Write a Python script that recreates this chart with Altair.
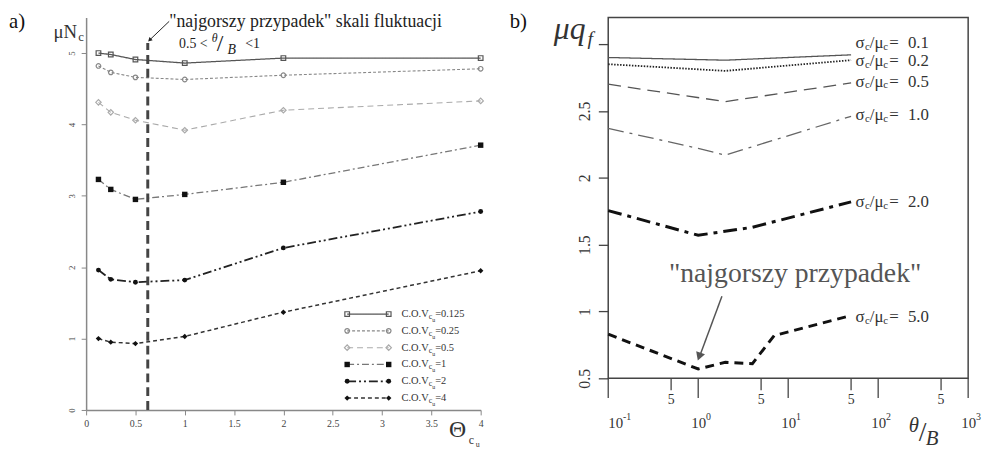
import altair as alt
import pandas as pd

# ---------------- data: panel a ----------------
theta_a = [0.125, 0.25, 0.5, 1, 2, 4]
cov_labels = ["0.125", "0.25", "0.5", "1", "2", "4"]
cov_0125 = [5.00, 4.98, 4.91, 4.86, 4.93, 4.93]
cov_025 = [4.82, 4.73, 4.66, 4.63, 4.69, 4.78]
cov_05 = [4.31, 4.17, 4.06, 3.92, 4.20, 4.33]
cov_1 = [3.23, 3.09, 2.95, 3.02, 3.19, 3.71]
cov_2 = [1.96, 1.83, 1.79, 1.82, 2.27, 2.78]
cov_4 = [1.00, 0.95, 0.93, 1.03, 1.37, 1.95]
worst_theta = 0.625

# ---------------- data: panel b ----------------
sig_labels = ["0.1", "0.2", "0.5", "1.0", "2.0", "5.0"]
x_s01 = [0.1, 2, 50]
y_s01 = [2.90, 2.88, 2.92]
x_s02 = [0.1, 2, 50]
y_s02 = [2.85, 2.80, 2.88]
x_s05 = [0.1, 2, 50]
y_s05 = [2.70, 2.57, 2.71]
x_s10 = [0.1, 1, 2, 50]
y_s10 = [2.37, 2.22, 2.17, 2.46]
x_s20 = [0.1, 1, 4, 50]
y_s20 = [1.755, 1.57, 1.63, 1.82]
x_s50 = [0.1, 1, 2, 4, 7, 50]
y_s50 = [0.83, 0.57, 0.62, 0.61, 0.82, 0.97]
sig_label_y = [3.01, 2.87, 2.72, 2.47, 1.82, 0.96]
major_ticks = [0.1, 1, 10, 100, 1000]
major_exp = ["-1", "0", "1", "2", "3"]
minor_ticks = [0.5, 5, 50, 500]

SERIF = "Liberation Serif, Times New Roman, DejaVu Serif, serif"

WA, HA = 399, 397
WB, HB = 364, 365


def one():
    return pd.DataFrame({"a": [0]})


def txt(text, x, y, size, italic=False, color="#222", align="left", baseline="middle"):
    return alt.Chart(one()).mark_text(
        text=text, font=SERIF, fontSize=size, fontStyle="italic" if italic else "normal",
        color=color, align=align, baseline=baseline
    ).encode(x=alt.value(x), y=alt.value(y))


# ================= panel a =================
xa = alt.Scale(domain=[0, 4], nice=False, zero=False)
ya = alt.Scale(domain=[0, 5.5], nice=False, zero=False)

styles_a = [
    dict(vals=cov_0125, color="#555", dash=[1, 0], width=1.3, shape="square", filled=False, size=22),
    dict(vals=cov_025, color="#888", dash=[3, 2], width=1.1, shape="circle", filled=False, size=22),
    dict(vals=cov_05, color="#aaa", dash=[6, 4], width=1.1, shape="diamond", filled=False, size=30),
    dict(vals=cov_1, color="#777", dash=[7, 3, 2, 3], width=1.3, shape="square", filled=True, size=30),
    dict(vals=cov_2, color="#222", dash=[9, 3, 2, 3, 2, 3], width=1.8, shape="circle", filled=True, size=24),
    dict(vals=cov_4, color="#333", dash=[4, 3], width=1.5, shape="diamond", filled=True, size=30),
]
mark_col = {0: "#555", 1: "#888", 2: "#aaa", 3: "#111", 4: "#111", 5: "#111"}

layers_a = []
axis_layer = alt.Chart(pd.DataFrame({"x": [0, 4], "y": [0, 5.5]})).mark_point(opacity=0).encode(
    x=alt.X("x:Q", scale=xa, axis=alt.Axis(
        values=[0, 0.5, 1, 1.5, 2, 2.5, 3, 3.5, 4], title=None, grid=False,
        labelFont=SERIF, labelFontSize=10, labelColor="#444", domainColor="#888",
        domainWidth=1.5, tickColor="#888", tickSize=5, labelPadding=4, labelFlush=False,
        labelExpr="format(datum.value, '~g')")),
    y=alt.Y("y:Q", scale=ya, axis=alt.Axis(
        values=[0, 1, 2, 3, 4, 5], title=None, grid=False, labelAngle=270,
        labelFont=SERIF, labelFontSize=9, labelColor="#444", domainColor="#888",
        domainWidth=1.5, tickColor="#888", tickSize=5, labelPadding=5,
        labelExpr="format(datum.value, '~g')")),
)
layers_a.append(axis_layer)

for i, st in enumerate(styles_a):
    df = pd.DataFrame({"x": theta_a, "y": st["vals"]})
    layers_a.append(alt.Chart(df).mark_line(color=st["color"], strokeDash=st["dash"],
                                            strokeWidth=st["width"]).encode(
        x=alt.X("x:Q", scale=xa), y=alt.Y("y:Q", scale=ya)))
    layers_a.append(alt.Chart(df).mark_point(shape=st["shape"], filled=st["filled"], size=st["size"],
                                             color=mark_col[i], strokeWidth=1.2, opacity=1).encode(
        x=alt.X("x:Q", scale=xa), y=alt.Y("y:Q", scale=ya)))

# worst-case vertical line
layers_a.append(alt.Chart(pd.DataFrame({"x": [worst_theta], "y": [0], "y2": [5.14]})).mark_rule(
    color="#444", strokeWidth=3, strokeDash=[9, 5]).encode(
    x=alt.X("x:Q", scale=xa), y=alt.Y("y:Q", scale=ya), y2="y2:Q"))

# legend (pixel rows converted to data units)
leg_rows_px = [300, 317, 334, 351, 368, 385]
for i, st in enumerate(styles_a):
    yy = (HA - leg_rows_px[i]) / HA * 5.5
    x1, x2, xt = 264 / WA * 4, 306 / WA * 4, 319 / WA * 4
    dfl = pd.DataFrame({"x": [x1], "x2": [x2], "y": [yy]})
    layers_a.append(alt.Chart(dfl).mark_rule(color=st["color"], strokeDash=st["dash"],
                                             strokeWidth=st["width"]).encode(
        x=alt.X("x:Q", scale=xa), x2="x2:Q", y=alt.Y("y:Q", scale=ya)))
    dfp = pd.DataFrame({"x": [x1, x2], "y": [yy, yy]})
    layers_a.append(alt.Chart(dfp).mark_point(shape=st["shape"], filled=st["filled"], size=st["size"],
                                              color=mark_col[i], strokeWidth=1.2, opacity=1).encode(
        x=alt.X("x:Q", scale=xa), y=alt.Y("y:Q", scale=ya)))
    dft = pd.DataFrame({"x": [xt], "y": [yy], "t": ["=" + cov_labels[i]]})
    base = alt.Chart(dft).encode(x=alt.X("x:Q", scale=xa), y=alt.Y("y:Q", scale=ya))
    layers_a.append(base.mark_text(text="C.O.V", font=SERIF, fontSize=10.5, color="#333",
                                   align="left", baseline="middle"))
    layers_a.append(base.mark_text(text="c", font=SERIF, fontSize=8, color="#333",
                                   align="left", baseline="middle", dx=27.5, dy=3))
    layers_a.append(base.mark_text(text="u", font=SERIF, fontSize=6, color="#333",
                                   align="left", baseline="middle", dx=31, dy=6))
    layers_a.append(base.mark_text(font=SERIF, fontSize=10.5, color="#333",
                                   align="left", baseline="middle", dx=34).encode(text="t:N"))

# annotations panel a
layers_a += [
    txt("a)", -78, 5, 21, color="#111"),
    txt("μN", -33, 15, 19, color="#333"),
    txt("c", -8, 20, 13, color="#333"),
    txt("\"najgorszy przypadek\" skali fluktuacji", 84, 5, 18, color="#222"),
    txt("0.5 <", 94, 27, 14, color="#222"),
    txt("θ", 127, 21, 12, italic=True, color="#222"),
    txt("/", 132, 27, 24, color="#222"),
    txt("B", 143, 33, 14, italic=True, color="#222"),
    txt("<1", 161, 27, 14, color="#222"),
    txt("Θ", 367, 417, 24, color="#333"),
    txt("c", 387, 427, 12, color="#333"),
    txt("u", 394, 432, 8, color="#333"),
    alt.Chart(one()).mark_rule(color="#222", strokeWidth=1).encode(
        x=alt.value(84), y=alt.value(4), x2=alt.value(64.2), y2=alt.value(22.9)),
    alt.Chart(one()).mark_point(shape="triangle-up", filled=True, size=22, color="#222",
                                angle=226, opacity=1).encode(x=alt.value(64.2), y=alt.value(22.9)),
]

panel_a = alt.layer(*layers_a).properties(width=WA, height=HA,
                                          view=alt.ViewBackground(stroke="transparent"))

# ================= panel b =================
xb = alt.Scale(type="log", domain=[0.1, 1000], nice=False)
yb = alt.Scale(domain=[0.5, 3.2], nice=False, zero=False)

styles_b = [
    dict(x=x_s01, y=y_s01, color="#555", dash=[1, 0], width=1.3),
    dict(x=x_s02, y=y_s02, color="#222", dash=[1.5, 1.5], width=1.8),
    dict(x=x_s05, y=y_s05, color="#555", dash=[13, 7], width=1.3),
    dict(x=x_s10, y=y_s10, color="#666", dash=[16, 6, 3, 6], width=1.3),
    dict(x=x_s20, y=y_s20, color="#111", dash=[14, 6, 4, 6], width=3),
    dict(x=x_s50, y=y_s50, color="#111", dash=[9, 6], width=3),
]

layers_b = []
layers_b.append(alt.Chart(pd.DataFrame({"x": [0.1, 1000], "y": [0.5, 3.2]})).mark_point(opacity=0).encode(
    x=alt.X("x:Q", scale=xb, axis=None),
    y=alt.Y("y:Q", scale=yb, axis=alt.Axis(
        values=[0.5, 1, 1.5, 2, 2.5, 3], title=None, grid=False, labelAngle=270, domain=False,
        labelFont=SERIF, labelFontSize=16, labelColor="#333", tickColor="#444", tickWidth=1.3,
        tickSize=10, labelPadding=6,
        labelExpr="datum.value == 3 ? '' : format(datum.value, '~g')")),
))
for st in styles_b:
    df = pd.DataFrame({"x": st["x"], "y": st["y"]})
    layers_b.append(alt.Chart(df).mark_line(color=st["color"], strokeDash=st["dash"],
                                            strokeWidth=st["width"]).encode(
        x=alt.X("x:Q", scale=xb), y=alt.Y("y:Q", scale=yb)))

# sigma labels
dfs = pd.DataFrame({"x": [56] * 6, "y": sig_label_y, "v": sig_labels})
bs = alt.Chart(dfs).encode(x=alt.X("x:Q", scale=xb), y=alt.Y("y:Q", scale=yb))
layers_b += [
    bs.mark_text(text="σ", font=SERIF, fontSize=17, color="#333", align="left", baseline="middle"),
    bs.mark_text(text="c", font=SERIF, fontSize=11, color="#333", align="left", baseline="middle", dx=9.5, dy=4),
    bs.mark_text(text="/μ", font=SERIF, fontSize=17, color="#333", align="left", baseline="middle", dx=14.5),
    bs.mark_text(text="c", font=SERIF, fontSize=11, color="#333", align="left", baseline="middle", dx=28, dy=4),
    bs.mark_text(text="=", font=SERIF, fontSize=17, color="#333", align="left", baseline="middle", dx=34),
    bs.mark_text(font=SERIF, fontSize=17, color="#333", align="left", baseline="middle", dx=53).encode(text="v:N"),
]

# custom x axis ticks and labels
dmaj = pd.DataFrame({"x": major_ticks, "e": major_exp})
dmin = pd.DataFrame({"x": minor_ticks})
layers_b += [
    alt.Chart(dmaj).mark_rule(color="#444", strokeWidth=1.3).encode(
        x=alt.X("x:Q", scale=xb), y=alt.value(HB), y2=alt.value(HB + 20)),
    alt.Chart(dmin).mark_rule(color="#444", strokeWidth=1.3).encode(
        x=alt.X("x:Q", scale=xb), y=alt.value(HB), y2=alt.value(HB + 12)),
    alt.Chart(dmin).mark_text(text="5", font=SERIF, fontSize=14, color="#333", baseline="middle").encode(
        x=alt.X("x:Q", scale=xb), y=alt.value(HB + 22)),
    alt.Chart(dmaj[dmaj.x > 0.1]).mark_text(text="10", font=SERIF, fontSize=15, color="#333",
                                            align="left", baseline="middle", dx=-7).encode(
        x=alt.X("x:Q", scale=xb), y=alt.value(HB + 45)),
    alt.Chart(dmaj[dmaj.x > 0.1]).mark_text(font=SERIF, fontSize=10, color="#333",
                                            align="left", baseline="middle", dx=8, dy=-6).encode(
        x=alt.X("x:Q", scale=xb), y=alt.value(HB + 45), text="e:N"),
    alt.Chart(dmaj[dmaj.x == 0.1]).mark_text(text="10", font=SERIF, fontSize=15, color="#333",
                                             align="left", baseline="middle", dx=0).encode(
        x=alt.X("x:Q", scale=xb), y=alt.value(HB + 45)),
    alt.Chart(dmaj[dmaj.x == 0.1]).mark_text(font=SERIF, fontSize=10, color="#333",
                                             align="left", baseline="middle", dx=15, dy=-6).encode(
        x=alt.X("x:Q", scale=xb), y=alt.value(HB + 45), text="e:N"),
]

layers_b += [
    txt("b)", -99.7, 5, 21, color="#111"),
    txt("μq", -55, 12, 32, italic=True, color="#333"),
    txt("f", -21, 22, 20, italic=True, color="#333"),
    txt("θ", 304, 413, 21, italic=True, color="#333"),
    txt("/", 314, 420, 28, color="#333"),
    txt("B", 321, 426, 21, italic=True, color="#333"),
    txt("\"najgorszy przypadek\"", 189, 260, 28, color="#555", align="center"),
    alt.Chart(one()).mark_rule(color="#555", strokeWidth=1.5).encode(
        x=alt.value(115), y=alt.value(282), x2=alt.value(92), y2=alt.value(344)),
    alt.Chart(one()).mark_point(shape="triangle-up", filled=True, size=90, color="#555",
                                angle=200, opacity=1).encode(x=alt.value(92), y=alt.value(343)),
]

panel_b = alt.layer(*layers_b).properties(width=WB, height=HB,
                                          view=alt.ViewBackground(stroke="#444", strokeWidth=1.5))

chart = alt.hconcat(panel_a, panel_b, spacing=22).properties(
    padding={"left": 0, "top": 0, "right": 0, "bottom": 0}
).configure(font=SERIF)

chart.save("out.html", embed_options={"renderer": "svg", "actions": False})
